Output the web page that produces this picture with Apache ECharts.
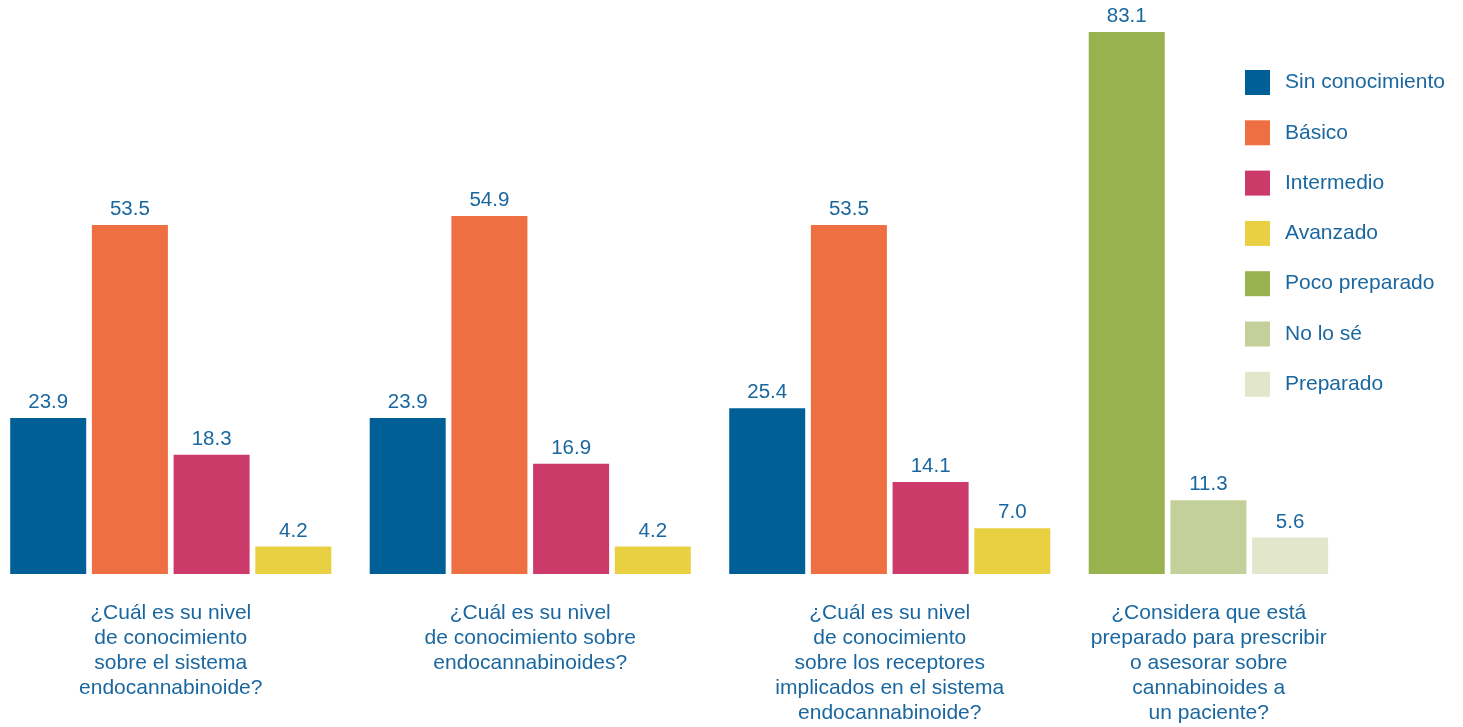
<!DOCTYPE html>
<html>
<head>
<meta charset="utf-8">
<style>
  html, body { margin: 0; padding: 0; background: #fff; overflow: hidden; }
  /* el primer grupo empieza casi en el borde: desplazar el lienzo */
  #chart { position: absolute; left: -9px; top: 0; width: 1472px; height: 727px; }
</style>
<script src="https://cdn.jsdelivr.net/npm/echarts@6/dist/echarts.min.js"></script>
</head>
<body>
<div id="chart"></div>
<script>
// preguntas (categorías del eje x)
const categories = [
  "¿Cuál es su nivel\nde conocimiento\nsobre el sistema\nendocannabinoide?",
  "¿Cuál es su nivel\nde conocimiento sobre\nendocannabinoides?",
  "¿Cuál es su nivel\nde conocimiento\nsobre los receptores\nimplicados en el sistema\nendocannabinoide?",
  "¿Considera que está\npreparado para prescribir\no asesorar sobre\ncannabinoides a\nun paciente?",
];

// porcentajes por respuesta
const sinConocimiento = [23.9, 23.9, 25.4, null];
const basico = [53.5, 54.9, 53.5, null];
const intermedio = [18.3, 16.9, 14.1, null];
const avanzado = [4.2, 4.2, 7.0, null];
const pocoPreparado = [null, null, null, 83.1];
const noLoSe = [null, null, null, 11.3];
const preparado = [null, null, null, 5.6];

const textBlue = "#1a67a0";

const chart = echarts.init(document.getElementById("chart"));

// cada "stack" es una posición de barra dentro del grupo
function bar(name, data, color, stack) {
  return {
    name: name,
    type: "bar",
    stack: stack,
    data: data,
    barWidth: 76,
    barGap: "7.5%",
    itemStyle: { color: color },
    label: {
      show: true,
      position: "top",
      distance: 5,
      color: textBlue,
      fontSize: 20.5,
      fontFamily: "Liberation Sans, Arial, sans-serif",
      formatter: (p) => (p.value == null ? "" : p.value.toFixed(1)),
    },
  };
}

const option = {
  animation: false,
  textStyle: { fontFamily: "Liberation Sans, Arial, sans-serif" },
  grid: { left: 0, right: 34, top: 0, bottom: 153, containLabel: false },
  legend: {
    orient: "vertical",
    left: 1254,
    top: 70,
    padding: 0,
    itemWidth: 25,
    itemHeight: 25,
    itemGap: 25.3,
    icon: "rect",
    textStyle: { fontSize: 21, color: textBlue, padding: [0, 0, 0, 10] },
    data: ["Sin conocimiento", "Básico", "Intermedio", "Avanzado", "Poco preparado", "No lo sé", "Preparado"],
  },
  xAxis: {
    type: "category",
    data: categories,
    axisLine: { show: false },
    axisTick: { show: false },
    axisLabel: {
      interval: 0,
      margin: 27,
      color: textBlue,
      fontSize: 21,
      lineHeight: 25,
      align: "center",
      // el último grupo tiene 3 barras: centrar el texto sobre ellas
      formatter: function (value, index) {
        if (index === 3) {
          return value.split("\n").map((l) => "{s|" + l + "}").join("\n");
        }
        return value;
      },
      rich: {
        s: { fontSize: 21, lineHeight: 25, color: textBlue, padding: [0, 81, 0, 0] },
      },
    },
  },
  yAxis: {
    type: "value",
    min: 0,
    max: 88,
    show: false,
    splitLine: { show: false },
  },
  series: [
    bar("Sin conocimiento", sinConocimiento, "#005f96", "a"),
    bar("Básico", basico, "#ee6f41", "b"),
    bar("Intermedio", intermedio, "#cc3a69", "c"),
    bar("Avanzado", avanzado, "#e9d042", "d"),
    bar("Poco preparado", pocoPreparado, "#97b24f", "a"),
    bar("No lo sé", noLoSe, "#c4d09a", "b"),
    bar("Preparado", preparado, "#e2e7cc", "c"),
  ],
};

chart.setOption(option);
</script>
</body>
</html>
